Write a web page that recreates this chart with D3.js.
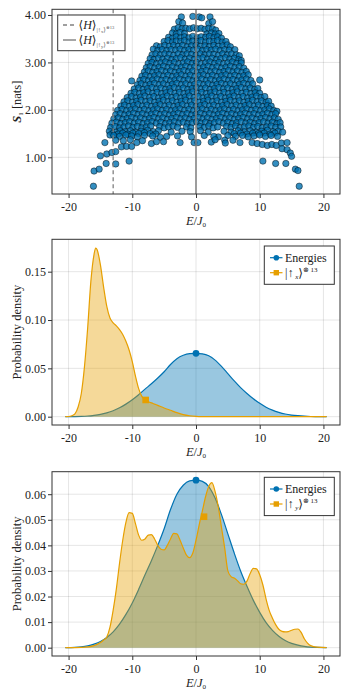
<!DOCTYPE html>
<html><head><meta charset="utf-8">
<script src="https://cdn.jsdelivr.net/npm/d3@7"></script>
<style>body{margin:0;background:#fff}svg{display:block}text{font-family:"Liberation Serif","DejaVu Serif",serif;fill:#222}</style>
</head><body><svg id="c" width="349" height="698"></svg>
<script>
const xTicks = [-20, -10, 0, 10, 20];
const entropyTicks = [1, 2, 3, 4];
const densityTicksA = [0, 0.05, 0.10, 0.15];
const densityTicksB = [0, 0.01, 0.02, 0.03, 0.04, 0.05, 0.06];

const meanUpX = -13.0;
const meanUpY = 0.0;

// eigenstates: [E/J0, S1]
const eigenPoints = [
[-2.3,3.96],[-0.5,3.97],[0.5,3.96],[0.9,3.94],[2.2,3.96],
[-2.7,3.86],[-2.1,3.83],[2.0,3.82],[2.6,3.86],
[-3.4,3.70],[-2.8,3.73],[-2.2,3.71],[-1.6,3.72],[-1.0,3.71],[-0.4,3.73],[0.2,3.71],[0.8,3.72],[1.4,3.70],[2.0,3.72],[2.6,3.71],[3.1,3.68],
[-3.7,3.62],[-3.1,3.60],[-2.5,3.63],[-1.8,3.61],[1.7,3.60],[2.4,3.62],[3.0,3.60],[3.6,3.61],
[-4.3,3.53],[-3.7,3.51],[-3.1,3.54],[-2.4,3.52],[-1.8,3.54],[-1.1,3.52],[-0.5,3.55],[0.2,3.52],[0.8,3.54],[1.5,3.53],[2.1,3.55],[2.8,3.52],[3.4,3.54],[4.0,3.51],
[-5.0,3.44],[-4.4,3.46],[-3.7,3.43],[-3.1,3.45],[-2.4,3.44],[-1.8,3.46],[-1.1,3.43],[-0.5,3.45],[0.2,3.44],[0.8,3.46],[1.5,3.43],[2.1,3.45],[2.8,3.44],[3.4,3.46],[4.1,3.43],[4.7,3.44],
[-6.2,3.35],[-5.6,3.33],[-4.9,3.36],[-4.2,3.34],[-3.5,3.36],[-2.8,3.34],[-2.1,3.36],[-1.4,3.33],[-0.7,3.35],[0.0,3.36],[0.7,3.34],[1.4,3.35],[2.1,3.33],[2.8,3.36],[3.5,3.34],[4.2,3.35],[4.9,3.37],[5.4,3.33],
[-6.7,3.28],[-6.0,3.25],[-5.3,3.27],[-4.6,3.25],[-3.9,3.27],[-3.2,3.26],[-2.5,3.28],[-1.8,3.25],[-1.1,3.27],[-0.4,3.26],[0.3,3.28],[1.0,3.25],[1.7,3.27],[2.4,3.26],[3.1,3.28],[3.8,3.25],[4.5,3.27],[5.2,3.26],[6.1,3.27],
[-6.9,3.16],[-6.3,3.18],[-5.6,3.16],[-4.9,3.18],[-4.2,3.17],[-3.5,3.15],[-2.8,3.18],[-2.1,3.16],[-1.4,3.18],[-0.7,3.17],[0.0,3.15],[0.7,3.18],[1.4,3.16],[2.1,3.18],[2.8,3.17],[3.5,3.15],[4.2,3.18],[4.9,3.16],[5.6,3.18],[6.3,3.16],[6.8,3.14],
[-7.2,3.08],[-6.6,3.06],[-5.9,3.09],[-5.2,3.07],[-4.5,3.09],[-3.8,3.06],[-3.1,3.08],[-2.4,3.10],[-1.7,3.07],[-1.0,3.09],[-0.3,3.06],[0.4,3.08],[1.1,3.10],[1.8,3.07],[2.5,3.09],[3.2,3.06],[3.9,3.08],[4.6,3.10],[5.3,3.07],[6.0,3.09],[6.7,3.06],[7.1,3.04],
[-7.5,2.98],[-6.9,3.00],[-6.2,2.97],[-5.5,2.99],[-4.8,3.01],[-4.1,2.98],[-3.4,3.00],[-2.7,2.97],[-2.0,2.99],[-1.3,3.01],[-0.6,2.98],[0.1,3.00],[0.8,2.97],[1.5,2.99],[2.2,3.01],[2.9,2.98],[3.6,3.00],[4.3,2.97],[5.0,2.99],[5.7,3.01],[6.4,2.98],[7.1,2.99],
[-7.8,2.89],[-7.2,2.91],[-6.5,2.88],[-5.8,2.90],[-5.1,2.92],[-4.4,2.89],[-3.7,2.91],[-3.0,2.88],[-2.3,2.90],[-1.6,2.92],[-0.9,2.89],[-0.2,2.91],[0.5,2.88],[1.2,2.90],[1.9,2.92],[2.6,2.89],[3.3,2.91],[4.0,2.88],[4.7,2.90],[5.4,2.92],[6.1,2.89],[6.8,2.91],[7.5,2.88],
[-8.1,2.80],[-7.5,2.82],[-6.8,2.79],[-6.1,2.81],[-5.4,2.83],[-4.7,2.80],[-4.0,2.82],[-3.3,2.79],[-2.6,2.81],[-1.9,2.83],[-1.2,2.80],[-0.5,2.82],[0.2,2.79],[0.9,2.81],[1.6,2.83],[2.3,2.80],[3.0,2.82],[3.7,2.79],[4.4,2.81],[5.1,2.83],[5.8,2.80],[6.5,2.82],[7.2,2.79],[7.9,2.81],
[-8.5,2.71],[-7.9,2.73],[-7.2,2.70],[-6.5,2.72],[-5.8,2.74],[-5.1,2.71],[-4.4,2.73],[-3.7,2.70],[-3.0,2.72],[-2.3,2.74],[-1.6,2.71],[-0.9,2.73],[-0.2,2.70],[0.5,2.72],[1.2,2.74],[1.9,2.71],[2.6,2.73],[3.3,2.70],[4.0,2.72],[4.7,2.74],[5.4,2.71],[6.1,2.73],[6.8,2.70],[7.5,2.72],[8.2,2.74],
[-10.1,2.61],[-8.8,2.62],[-8.2,2.64],[-7.5,2.61],[-6.8,2.63],[-6.1,2.65],[-5.4,2.62],[-4.7,2.64],[-4.0,2.61],[-3.3,2.63],[-2.6,2.65],[-1.9,2.62],[-1.2,2.64],[-0.5,2.61],[0.2,2.63],[0.9,2.65],[1.6,2.62],[2.3,2.64],[3.0,2.61],[3.7,2.63],[4.4,2.65],[5.1,2.62],[5.8,2.64],[6.5,2.61],[7.2,2.63],[7.9,2.65],[8.6,2.62],[10.0,2.63],
[-9.2,2.53],[-8.6,2.55],[-7.9,2.52],[-7.2,2.54],[-6.5,2.56],[-5.8,2.53],[-5.1,2.55],[-4.4,2.52],[-3.7,2.54],[-3.0,2.56],[-2.3,2.53],[-1.6,2.55],[-0.9,2.52],[-0.2,2.54],[0.5,2.56],[1.2,2.53],[1.9,2.55],[2.6,2.52],[3.3,2.54],[4.0,2.56],[4.7,2.53],[5.4,2.55],[6.1,2.52],[6.8,2.54],[7.5,2.56],[8.2,2.53],[8.9,2.55],
[-9.7,2.44],[-9.0,2.46],[-8.3,2.43],[-7.6,2.45],[-6.9,2.47],[-6.2,2.44],[-5.5,2.46],[-4.8,2.43],[-4.1,2.45],[-3.4,2.47],[-2.7,2.44],[-2.0,2.46],[-1.3,2.43],[-0.6,2.45],[0.1,2.47],[0.8,2.44],[1.5,2.46],[2.2,2.43],[2.9,2.45],[3.6,2.47],[4.3,2.44],[5.0,2.46],[5.7,2.43],[6.4,2.45],[7.1,2.47],[7.8,2.44],[8.5,2.46],[9.2,2.43],[9.7,2.45],
[-10.2,2.35],[-9.6,2.37],[-8.9,2.34],[-8.2,2.36],[-7.5,2.38],[-6.8,2.35],[-6.1,2.37],[-5.4,2.34],[-4.7,2.36],[-4.0,2.38],[-3.3,2.35],[-2.6,2.37],[-1.9,2.34],[-1.2,2.36],[-0.5,2.38],[0.2,2.35],[0.9,2.37],[1.6,2.34],[2.3,2.36],[3.0,2.38],[3.7,2.35],[4.4,2.37],[5.1,2.34],[5.8,2.36],[6.5,2.38],[7.2,2.35],[7.9,2.37],[8.6,2.34],[9.3,2.36],[10.0,2.35],
[-10.8,2.26],[-10.1,2.28],[-9.4,2.25],[-8.7,2.27],[-8.0,2.29],[-7.3,2.26],[-6.6,2.28],[-5.9,2.25],[-5.2,2.27],[-4.5,2.29],[-3.8,2.26],[-3.1,2.28],[-2.4,2.25],[-1.7,2.27],[-1.0,2.29],[-0.3,2.26],[0.4,2.28],[1.1,2.25],[1.8,2.27],[2.5,2.29],[3.2,2.26],[3.9,2.28],[4.6,2.25],[5.3,2.27],[6.0,2.29],[6.7,2.26],[7.4,2.28],[8.1,2.25],[8.8,2.27],[9.5,2.29],[10.2,2.26],[10.8,2.28],
[-11.3,2.17],[-10.7,2.19],[-10.0,2.16],[-9.3,2.18],[-8.6,2.20],[-7.9,2.17],[-7.2,2.19],[-6.5,2.16],[-5.8,2.18],[-5.1,2.20],[-4.4,2.17],[-3.7,2.19],[-3.0,2.16],[-2.3,2.18],[-1.6,2.20],[-0.9,2.17],[-0.2,2.19],[0.5,2.16],[1.2,2.18],[1.9,2.20],[2.6,2.17],[3.3,2.19],[4.0,2.16],[4.7,2.18],[5.4,2.20],[6.1,2.17],[6.8,2.19],[7.5,2.16],[8.2,2.18],[8.9,2.20],[9.6,2.17],[10.3,2.19],[11.0,2.16],[11.4,2.18],
[-11.8,2.08],[-11.2,2.10],[-10.5,2.07],[-9.8,2.09],[-9.1,2.11],[-8.4,2.08],[-7.7,2.10],[-7.0,2.07],[-6.3,2.09],[-5.6,2.11],[-4.9,2.08],[-4.2,2.10],[-3.5,2.07],[-2.8,2.09],[-2.1,2.11],[-1.4,2.08],[-0.7,2.10],[0.0,2.07],[0.7,2.09],[1.4,2.11],[2.1,2.08],[2.8,2.10],[3.5,2.07],[4.2,2.09],[4.9,2.11],[5.6,2.08],[6.3,2.10],[7.0,2.07],[7.7,2.09],[8.4,2.11],[9.1,2.08],[9.8,2.10],[10.5,2.07],[11.2,2.09],[11.8,2.08],
[-12.3,1.99],[-11.6,2.01],[-10.9,1.98],[-10.2,2.00],[-9.5,2.02],[-8.8,1.99],[-8.1,2.01],[-7.4,1.98],[-6.7,2.00],[-6.0,2.02],[-5.3,1.99],[-4.6,2.01],[-3.9,1.98],[-3.2,2.00],[-2.5,2.02],[-1.8,1.99],[-1.1,2.01],[-0.4,1.98],[0.3,2.00],[1.0,2.02],[1.7,1.99],[2.4,2.01],[3.1,1.98],[3.8,2.00],[4.5,2.02],[5.2,1.99],[5.9,2.01],[6.6,1.98],[7.3,2.00],[8.0,2.02],[8.7,1.99],[9.4,2.01],[10.1,1.98],[10.8,2.00],[11.5,2.02],[12.2,1.99],[12.7,1.97],
[-12.6,1.90],[-11.9,1.92],[-11.2,1.89],[-10.5,1.91],[-9.8,1.93],[-9.1,1.90],[-8.4,1.92],[-7.7,1.89],[-7.0,1.91],[-6.3,1.93],[-5.6,1.90],[-4.9,1.92],[-4.2,1.89],[-3.5,1.91],[-2.8,1.93],[-2.1,1.90],[-1.4,1.92],[-0.7,1.89],[0.0,1.91],[0.7,1.93],[1.4,1.90],[2.1,1.92],[2.8,1.89],[3.5,1.91],[4.2,1.93],[4.9,1.90],[5.6,1.92],[6.3,1.89],[7.0,1.91],[7.7,1.93],[8.4,1.90],[9.1,1.92],[9.8,1.89],[10.5,1.91],[11.2,1.93],[11.9,1.90],[12.5,1.92],
[-12.9,1.81],[-12.2,1.83],[-11.5,1.80],[-10.8,1.82],[-10.1,1.84],[-9.4,1.81],[-8.7,1.83],[-8.0,1.80],[-7.3,1.82],[-6.6,1.84],[-5.9,1.81],[-5.2,1.83],[-4.5,1.80],[-3.8,1.82],[-3.1,1.84],[-2.4,1.81],[-1.7,1.83],[-1.0,1.80],[-0.3,1.82],[0.4,1.84],[1.1,1.81],[1.8,1.83],[2.5,1.80],[3.2,1.82],[3.9,1.84],[4.6,1.81],[5.3,1.83],[6.0,1.80],[6.7,1.82],[7.4,1.84],[8.1,1.81],[8.8,1.83],[9.5,1.80],[10.2,1.82],[10.9,1.84],[11.6,1.81],[12.3,1.83],[12.9,1.80],
[-13.2,1.72],[-12.5,1.74],[-11.8,1.71],[-11.1,1.73],[-10.4,1.75],[-9.7,1.72],[-9.0,1.74],[-8.3,1.71],[-7.6,1.73],[-6.9,1.75],[-6.2,1.72],[-5.5,1.74],[-4.8,1.71],[-4.1,1.73],[-3.4,1.75],[-2.7,1.72],[-2.0,1.74],[-1.3,1.71],[-0.6,1.73],[0.1,1.75],[0.8,1.72],[1.5,1.74],[2.2,1.71],[2.9,1.73],[3.6,1.75],[4.3,1.72],[5.0,1.74],[5.7,1.71],[6.4,1.73],[7.1,1.75],[7.8,1.72],[8.5,1.74],[9.2,1.71],[9.9,1.73],[10.6,1.75],[11.3,1.72],[12.0,1.74],[12.7,1.71],[13.2,1.73],
[-13.4,1.63],[-12.7,1.65],[-12.0,1.62],[-11.3,1.64],[-10.6,1.66],[-9.9,1.63],[-9.2,1.65],[-8.5,1.62],[-7.8,1.64],[-7.1,1.66],[-5.7,1.65],[-5.0,1.62],[-4.3,1.64],[-3.6,1.66],[-2.9,1.63],[-1.5,1.64],[-0.8,1.62],[0.6,1.65],[1.3,1.63],[2.0,1.66],[2.7,1.62],[3.4,1.64],[4.8,1.65],[5.5,1.63],[6.2,1.66],[6.9,1.62],[7.6,1.64],[8.3,1.66],[9.0,1.63],[9.7,1.65],[10.4,1.62],[11.1,1.64],[11.8,1.66],[12.5,1.63],[13.3,1.64],
[-13.6,1.55],[-12.6,1.53],[-11.9,1.56],[-11.1,1.54],[-10.3,1.56],[-9.5,1.53],[-8.6,1.55],[-7.6,1.57],[-6.7,1.54],[-5.9,1.56],[-4.6,1.44],[-3.9,1.53],[-2.2,1.55],[-0.9,1.54],[0.7,1.56],[1.9,1.53],[3.5,1.43],[4.4,1.55],[5.5,1.53],[6.6,1.56],[7.6,1.54],[8.5,1.56],[9.4,1.53],[10.3,1.55],[11.2,1.57],[12.1,1.54],[12.9,1.55],[13.6,1.53],
[-13.1,1.50],[-12.2,1.49],[-11.5,1.51],[-10.7,1.49],[-9.9,1.51],[-9.0,1.50],[-8.1,1.52],[-7.2,1.50],[-6.3,1.49],[6.0,1.50],[7.0,1.51],[8.0,1.49],[8.9,1.51],[9.8,1.50],[10.7,1.51],[11.6,1.49],[12.4,1.51],
[-13.5,1.47],[-12.9,1.46],[-12.0,1.44],[-11.0,1.47],[-10.1,1.45],[-9.2,1.43],[-8.1,1.46],[-6.8,1.45],[-5.6,1.42],[-2.9,1.45],[-0.7,1.43],[1.3,1.46],[2.8,1.44],[5.0,1.46],[6.2,1.44],[7.3,1.46],[8.2,1.43],[9.1,1.45],[10.0,1.47],[10.9,1.44],[11.8,1.46],[12.8,1.44],
[-14.3,1.31],[-12.6,1.36],[-11.4,1.35],[-10.3,1.37],[-9.3,1.31],[-8.4,1.35],[-7.0,1.29],[-6.2,1.33],[-5.1,1.33],[-2.5,1.31],[-0.3,1.31],[0.3,1.31],[2.4,1.32],[3.0,1.37],[4.5,1.36],[4.6,1.30],[5.8,1.36],[6.9,1.31],[8.8,1.31],[9.6,1.29],[10.4,1.27],[11.2,1.25],[11.9,1.27],[12.6,1.25],[13.4,1.30],[14.3,1.31],
[-14.0,1.07],[-13.2,1.10],[-12.6,1.12],[-11.7,1.22],[-10.9,1.23],[-10.1,1.23],[13.5,1.18],[14.3,1.16],[14.8,1.09],[-15.0,1.03],[15.0,1.02],
[-14.1,0.87],[-12.6,0.86],[-10.5,0.92],[10.5,0.92],[12.5,0.87],[14.1,0.87],[-16.0,0.71],[-15.2,0.75],[15.6,0.75],[16.0,0.72],[-16.1,0.39],[16.2,0.39]
];

// KDE of the energies
const kdeEnergyE = [-20.5,-19,-18,-17,-16,-15,-14,-13,-12,-11,-10,-9,-8,-7,-6,-5,-4,-3,-2,-1,0,1,2,3,4,5,6,7,8,9,10,11,12,13,14,15,16,17,18,19,20.5];
const kdeEnergyP = [0,0.0001,0.0003,0.0007,0.0014,0.0024,0.0040,0.0062,0.0092,0.0130,0.0175,0.0228,0.0285,0.0340,0.0400,0.0465,0.0540,0.0600,0.0635,0.0652,0.0655,0.0650,0.0630,0.0585,0.0520,0.0445,0.0370,0.0300,0.0240,0.0185,0.0138,0.0098,0.0068,0.0045,0.0028,0.0017,0.0010,0.0005,0.0002,0.0001,0];

// KDE for |up_x>^13
const kdeUpXE = [-20.5,-20,-19.5,-19,-18.5,-18,-17.5,-17,-16.5,-16,-15.75,-15.5,-15,-14.5,-14,-13.5,-13,-12.5,-12,-11.5,-11,-10.5,-10,-9.5,-9,-8.5,-8,-7.5,-7,-6.5,-6,-5,-4,-3,-2,-1,0,1,2,20.5];
const kdeUpXP = [0,0.0002,0.001,0.003,0.010,0.024,0.052,0.092,0.140,0.168,0.1745,0.1725,0.157,0.134,0.114,0.102,0.097,0.094,0.090,0.085,0.078,0.069,0.057,0.042,0.029,0.021,0.0177,0.0158,0.0143,0.013,0.0117,0.009,0.0066,0.0042,0.0022,0.001,0.0004,0.0001,0,0];

// KDE for |up_y>^13
const kdeUpYE = [-20.5,-18,-17,-16,-15,-14.5,-14,-13.5,-13,-12.5,-12,-11.5,-11,-10.5,-10,-9.5,-9,-8.5,-8,-7.5,-7,-6.5,-6,-5.5,-5,-4.5,-4,-3.5,-3,-2.5,-2,-1.5,-1,-0.5,0,0.5,1,1.5,2,2.5,3,3.5,4,4.5,5,5.5,6,6.5,7,7.5,8,8.5,9,9.5,10,10.5,11,11.5,12,12.5,13,13.5,14,14.5,15,15.5,16,16.5,17,17.5,18,19,20.5];
const kdeUpYP = [0,0.0001,0.0003,0.0008,0.0020,0.0030,0.0042,0.0080,0.0147,0.0230,0.0330,0.0420,0.0490,0.0528,0.0525,0.0485,0.0440,0.0420,0.0425,0.0440,0.0442,0.0425,0.0400,0.0385,0.0382,0.0400,0.0425,0.0447,0.0445,0.0420,0.0390,0.0362,0.0352,0.0370,0.0420,0.0480,0.0535,0.0590,0.0630,0.0645,0.0610,0.0550,0.0470,0.0390,0.0300,0.0278,0.0272,0.0262,0.0250,0.0248,0.0260,0.0290,0.0310,0.0308,0.0285,0.0245,0.0190,0.0145,0.0115,0.0090,0.0072,0.0064,0.0062,0.0063,0.0068,0.0072,0.0073,0.0060,0.0035,0.0018,0.0008,0.0002,0];

const markerEnergies = [0, 0.0655];
const markerUpX = [-7.9, 0.0173];
const markerUpY = [1.26, 0.0512];

const BLUE = '#0072b2', ORANGE = '#e69f00', GRAY = '#808080';
const svg = d3.select('#c');
const x = d3.scaleLinear().domain([-22.6, 22.6]).range([52, 340]);
const L = 52, R = 340;

function makePanel(top, bottom, dom, ticks) {
  const y = d3.scaleLinear().domain(dom).range([bottom, top]);
  const g = svg.append('g');
  g.selectAll('line.gx').data(xTicks).join('line').attr('class','gx')
    .attr('x1', d => x(d)).attr('x2', d => x(d)).attr('y1', top).attr('y2', bottom)
    .attr('stroke', '#000').attr('stroke-opacity', 0.1).attr('stroke-width', 1);
  g.selectAll('line.gy').data(ticks).join('line').attr('class','gy')
    .attr('x1', L).attr('x2', R).attr('y1', d => y(d)).attr('y2', d => y(d))
    .attr('stroke', '#000').attr('stroke-opacity', 0.1).attr('stroke-width', 1);
  const content = svg.append('g');
  return {y, top, bottom, ticks, content};
}
function finishPanel(p, fmt) {
  svg.append('rect').attr('x', L).attr('y', p.top).attr('width', R - L).attr('height', p.bottom - p.top)
    .attr('fill', 'none').attr('stroke', '#333').attr('stroke-width', 1);
  const ax = svg.append('g').attr('transform', `translate(0,${p.bottom})`)
    .call(d3.axisBottom(x).tickValues(xTicks).tickSize(4).tickPadding(4).tickFormat(d => String(d)));
  ax.select('.domain').remove();
  const ay = svg.append('g').attr('transform', `translate(${L},0)`)
    .call(d3.axisLeft(p.y).tickValues(p.ticks).tickSize(4).tickPadding(2).tickFormat(fmt));
  ay.select('.domain').remove();
  [ax, ay].forEach(a => {
    a.selectAll('line').attr('stroke', '#333');
    a.selectAll('text').attr('font-size', 12).attr('font-family', '"Liberation Serif",serif').attr('fill', '#222');
  });
  const t = svg.append('text').attr('x', (L + R) / 2).attr('y', p.bottom + 31).attr('text-anchor', 'middle').attr('font-size', 12.5);
  t.append('tspan').attr('font-style', 'italic').text('E');
  t.append('tspan').text('/');
  t.append('tspan').attr('font-style', 'italic').text('J');
  t.append('tspan').attr('font-size', 7).attr('dy', 2).text('0');
}
function ylabelDensity(p) {
  const cy = (p.top + p.bottom) / 2;
  svg.append('text').attr('transform', `translate(20.5,${cy}) rotate(-90)`).attr('text-anchor', 'middle')
    .attr('font-size', 12.5).text('Probability density');
}

// ---------- Panel 1 ----------
const p1 = makePanel(9.3, 194, [0.226, 4.12], entropyTicks);
p1.content.selectAll('circle').data(eigenPoints).join('circle')
  .attr('cx', d => x(d[0])).attr('cy', d => p1.y(d[1])).attr('r', 3.2)
  .attr('fill', BLUE).attr('fill-opacity', 0.8)
  .attr('stroke', '#000').attr('stroke-opacity', 0.75).attr('stroke-width', 0.6);
p1.content.append('line').attr('x1', x(meanUpX)).attr('x2', x(meanUpX)).attr('y1', p1.top).attr('y2', p1.bottom)
  .attr('stroke', GRAY).attr('stroke-width', 1.3).attr('stroke-dasharray', '4,3');
p1.content.append('line').attr('x1', x(meanUpY)).attr('x2', x(meanUpY)).attr('y1', p1.top).attr('y2', p1.bottom)
  .attr('stroke', GRAY).attr('stroke-width', 1.5);
finishPanel(p1, d3.format('.2f'));
{
  const yl = svg.append('text').attr('transform', `translate(20.5,${(p1.top + p1.bottom) / 2}) rotate(-90)`)
    .attr('text-anchor', 'middle').attr('font-size', 12.5);
  yl.append('tspan').attr('font-style', 'italic').attr('font-weight', 'bold').text('S');
  yl.append('tspan').attr('font-size', 7).attr('dy', 2).text('1');
  yl.append('tspan').attr('dy', -2).text(' [nats]');
  const lg = svg.append('g');
  lg.append('rect').attr('x', 57.7).attr('y', 15).attr('width', 67.3).attr('height', 35.7)
    .attr('fill', '#fff').attr('stroke', '#333').attr('stroke-width', 1);
  const rows = [{y: 25, dash: '4,3', sub: 'x'}, {y: 40, dash: null, sub: 'y'}];
  rows.forEach(r => {
    lg.append('line').attr('x1', 63).attr('x2', 76).attr('y1', r.y).attr('y2', r.y)
      .attr('stroke', GRAY).attr('stroke-width', 1.4).attr('stroke-dasharray', r.dash);
    const t = lg.append('text').attr('x', 78.5).attr('y', r.y + 4).attr('font-size', 12);
    t.append('tspan').text('⟨');
    t.append('tspan').attr('font-style', 'italic').text('H');
    t.append('tspan').text('⟩');
    t.append('tspan').attr('font-size', 6.5).attr('dy', 2.5).attr('fill', '#555').text('|↑');
    t.append('tspan').attr('font-size', 4.5).attr('dy', 1).attr('fill', '#555').text(r.sub);
    t.append('tspan').attr('font-size', 6.5).attr('dy', -1).attr('fill', '#555').text('⟩');
    t.append('tspan').attr('font-size', 4.5).attr('dy', -3).attr('fill', '#555').text('⊗13');
  });
}

// ---------- density panels ----------
function densityPanel(p, gridE, vals, color) {
  const data = gridE.map((e, i) => [e, vals[i]]);
  const area = d3.area().x(d => x(d[0])).y0(p.y(0)).y1(d => p.y(d[1])).curve(d3.curveMonotoneX);
  const line = d3.line().x(d => x(d[0])).y(d => p.y(d[1])).curve(d3.curveMonotoneX);
  p.content.append('path').attr('d', area(data)).attr('fill', color).attr('fill-opacity', 0.4);
  p.content.append('path').attr('d', line(data)).attr('fill', 'none').attr('stroke', color).attr('stroke-width', 1.2);
}
function markers(p, mE, mO) {
  p.content.append('circle').attr('cx', x(mE[0])).attr('cy', p.y(mE[1])).attr('r', 3.4).attr('fill', BLUE);
  p.content.append('rect').attr('x', x(mO[0]) - 3.3).attr('y', p.y(mO[1]) - 3.3).attr('width', 6.6).attr('height', 6.6).attr('fill', ORANGE);
}
function legend(top, sub) {
  const lg = svg.append('g');
  lg.append('rect').attr('x', 264.3).attr('y', top).attr('width', 70).attr('height', 38.3)
    .attr('fill', '#fff').attr('stroke', '#333').attr('stroke-width', 1);
  const y1 = top + 11.7, y2 = top + 26.7;
  lg.append('line').attr('x1', 270).attr('x2', 282.5).attr('y1', y1).attr('y2', y1).attr('stroke', BLUE).attr('stroke-width', 1.2);
  lg.append('circle').attr('cx', 276.3).attr('cy', y1).attr('r', 2.8).attr('fill', BLUE);
  lg.append('line').attr('x1', 270).attr('x2', 282.5).attr('y1', y2).attr('y2', y2).attr('stroke', ORANGE).attr('stroke-width', 1.2);
  lg.append('rect').attr('x', 273.6).attr('y', y2 - 2.7).attr('width', 5.4).attr('height', 5.4).attr('fill', ORANGE);
  lg.append('text').attr('x', 285).attr('y', y1 + 4).attr('font-size', 12).text('Energies');
  const t = lg.append('text').attr('x', 285).attr('y', y2 + 4).attr('font-size', 12);
  t.append('tspan').text('|↑');
  t.append('tspan').attr('font-size', 7).attr('dy', 2).attr('font-style', 'italic').text(' ' + sub);
  t.append('tspan').attr('dy', -2).text('⟩');
  t.append('tspan').attr('font-size', 7).attr('dy', -5).text('⊗ 13');
}

const p2 = makePanel(239.3, 425, [-0.0086, 0.1835], densityTicksA);
densityPanel(p2, kdeEnergyE, kdeEnergyP, BLUE);
densityPanel(p2, kdeUpXE, kdeUpXP, ORANGE);
markers(p2, markerEnergies, markerUpX);
finishPanel(p2, d3.format('.2f'));
ylabelDensity(p2);
legend(246, 'x');

const p3 = makePanel(471.7, 656, [-0.00325, 0.0688], densityTicksB);
densityPanel(p3, kdeEnergyE, kdeEnergyP, BLUE);
densityPanel(p3, kdeUpYE, kdeUpYP, ORANGE);
markers(p3, markerEnergies, markerUpY);
finishPanel(p3, d3.format('.2f'));
ylabelDensity(p3);
legend(477.3, 'y');
</script></body></html>
